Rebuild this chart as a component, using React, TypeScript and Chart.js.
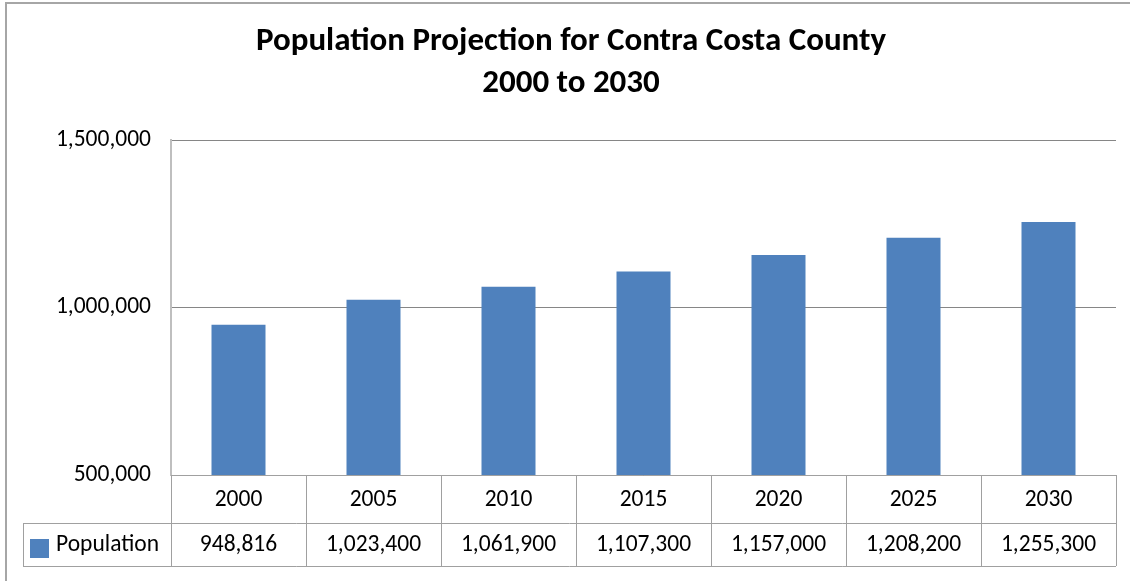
import React, { useEffect, useRef } from "react";
import { Chart, registerables } from "chart.js";

Chart.register(...registerables);

const titleLines = ["Population Projection for Contra Costa County", "2000 to 2030"];
const categories = ["2000", "2005", "2010", "2015", "2020", "2025", "2030"];
const seriesName = "Population";
const population = [948816, 1023400, 1061900, 1107300, 1157000, 1208200, 1255300];
const yTicks = [500000, 1000000, 1500000];

const FONT = "Carlito, Lato, 'Open Sans', sans-serif";
const BAR_COLOR = "#4F81BD";
const fmt = (v: number) => v.toLocaleString("en-US");

export default function App() {
  const ref = useRef<HTMLCanvasElement | null>(null);
  useEffect(() => {
    document.body.style.margin = "0";
    const canvas = ref.current!;
    const tablePlugin = {
      id: "excelTable",
      beforeDraw(chart: any) {
        const { ctx, width, height } = chart;
        ctx.save();
        ctx.fillStyle = "#ffffff";
        ctx.fillRect(0, 0, width, height);
        ctx.strokeStyle = "#A6A6A6";
        ctx.lineWidth = 2;
        ctx.beginPath();
        ctx.moveTo(6, height);
        ctx.lineTo(6, 3);
        ctx.lineTo(width, 3);
        ctx.stroke();
        // title
        ctx.fillStyle = "#000";
        ctx.textAlign = "center";
        ctx.textBaseline = "alphabetic";
        ctx.font = `bold 33px ${FONT}`;
        ctx.fillText(titleLines[0], 571, 50);
        ctx.fillText(titleLines[1], 571, 92);
        ctx.restore();
      },
      afterDraw(chart: any) {
        const { ctx, chartArea } = chart;
        const x = chart.scales.x;
        const n = categories.length;
        const colW = (chartArea.right - chartArea.left) / n;
        const top = chartArea.bottom;
        const mid = top + 48;
        const bot = top + 91;
        const legendLeft = 23;
        ctx.save();
        ctx.strokeStyle = "#A0A0A0";
        ctx.lineWidth = 1;
        ctx.beginPath();
        ctx.moveTo(chartArea.left, Math.round(top) + 0.5);
        ctx.lineTo(chartArea.right, Math.round(top) + 0.5);
        ctx.moveTo(legendLeft, Math.round(mid) + 0.5);
        ctx.lineTo(chartArea.right, Math.round(mid) + 0.5);
        ctx.moveTo(legendLeft, Math.round(bot) + 0.5);
        ctx.lineTo(chartArea.right, Math.round(bot) + 0.5);
        for (let i = 0; i <= n; i++) {
          const vx = Math.round(chartArea.left + i * colW) + 0.5;
          ctx.moveTo(vx, top);
          ctx.lineTo(vx, bot);
        }
        ctx.moveTo(legendLeft + 0.5, mid);
        ctx.lineTo(legendLeft + 0.5, bot);
        ctx.stroke();

        ctx.fillStyle = "#000";
        ctx.font = `23.5px ${FONT}`;
        ctx.textAlign = "center";
        ctx.textBaseline = "middle";
        categories.forEach((c, i) => {
          const cx = x.getPixelForValue(i);
          ctx.fillText(c, cx, (top + mid) / 2 + 1);
          ctx.fillText(fmt(population[i]), cx, (mid + bot) / 2 + 1);
        });
        ctx.fillStyle = BAR_COLOR;
        ctx.fillRect(30, 539, 19, 19);
        ctx.fillStyle = "#000";
        ctx.textAlign = "left";
        ctx.fillText(seriesName, 56, (mid + bot) / 2 + 1);
        ctx.restore();
      },
    };

    const chart = new Chart(canvas, {
      type: "bar",
      data: {
        labels: categories,
        datasets: [
          {
            label: seriesName,
            data: population,
            backgroundColor: BAR_COLOR,
            barPercentage: 0.4,
            categoryPercentage: 1.0,
          },
        ],
      },
      options: {
        animation: false,
        responsive: false,
        maintainAspectRatio: false,
        layout: { padding: { top: 140, bottom: 106, right: 14, left: 0 } },
        plugins: { legend: { display: false }, title: { display: false }, tooltip: { enabled: false } },
        scales: {
          x: { display: false, offset: true },
          y: {
            min: 500000,
            max: 1500000,
            afterBuildTicks: (s: any) => {
              s.ticks = yTicks.map((v) => ({ value: v }));
            },
            afterFit: (s: any) => {
              s.width = 171;
            },
            ticks: {
              padding: 20,
              color: "#000",
              font: { family: FONT, size: 23.5 },
              callback: (v: any) => fmt(Number(v)),
            },
            grid: { color: "#868686", drawTicks: false, lineWidth: 1 },
            border: { color: "#BFBFBF", width: 2 },
          },
        },
      },
      plugins: [tablePlugin],
    });
    return () => chart.destroy();
  }, []);
  return (
    <div style={{ width: 1130, height: 581 }}>
      <canvas ref={ref} width={1130} height={581} style={{ display: "block" }} />
    </div>
  );
}
